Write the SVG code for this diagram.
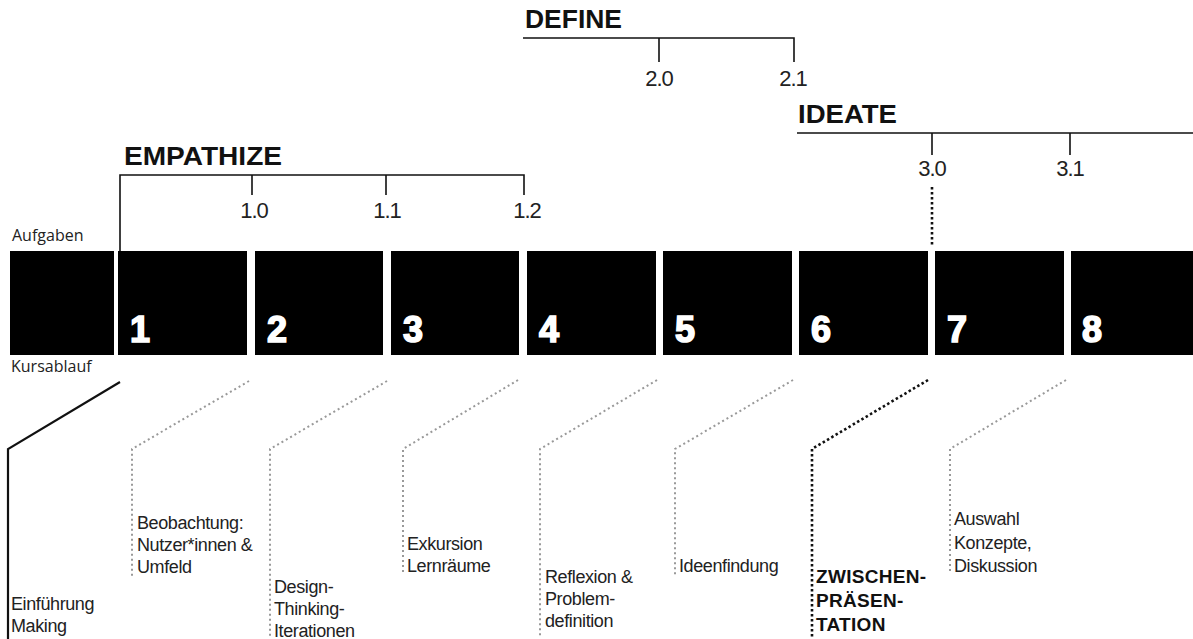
<svg xmlns="http://www.w3.org/2000/svg" width="1193" height="639" viewBox="0 0 1193 639">
<style>
.blk{fill:#000}
.num{font-family:"Liberation Sans",Arial,sans-serif;font-weight:bold;font-size:36px;fill:#fff;stroke:#fff;stroke-width:1.6}
.phase{font-family:"Liberation Sans",Arial,sans-serif;font-weight:bold;font-size:26px;fill:#111}
.sub{font-family:"Liberation Sans",Arial,sans-serif;font-size:22px;fill:#222;text-anchor:middle;letter-spacing:-1px}
.side{font-family:"Open Sans","DejaVu Sans",sans-serif;font-size:16px;fill:#222}
.lbl{font-family:"Liberation Sans",Arial,sans-serif;font-size:18px;fill:#222;letter-spacing:-0.4px}
.lblb{font-family:"Liberation Sans",Arial,sans-serif;font-size:19px;font-weight:bold;fill:#111;letter-spacing:0.3px}
.br{stroke:#111;stroke-width:1.6;fill:none}
.solid{stroke:#111;stroke-width:2.2;fill:none}
.gdot{stroke:#999;stroke-width:2;stroke-dasharray:2 3;fill:none}
.kdot{stroke:#111;stroke-width:2.6;stroke-dasharray:2.5 2.5;fill:none}
</style>
<rect width="1193" height="639" fill="#fff"/>
<text class="side" x="12" y="241">Aufgaben</text>
<text class="side" x="11" y="372">Kursablauf</text>
<g id="block0"><rect class="blk" x="10" y="251" width="104" height="104"/></g>
<g id="block1"><rect class="blk" x="118" y="251" width="129" height="104"/><text class="num" x="130" y="342">1</text></g>
<g id="block2"><rect class="blk" x="255" y="251" width="128" height="104"/><text class="num" x="267" y="342">2</text></g>
<g id="block3"><rect class="blk" x="391" y="251" width="128" height="104"/><text class="num" x="403" y="342">3</text></g>
<g id="block4"><rect class="blk" x="527" y="251" width="129" height="104"/><text class="num" x="539" y="342">4</text></g>
<g id="block5"><rect class="blk" x="663" y="251" width="129" height="104"/><text class="num" x="675" y="342">5</text></g>
<g id="block6"><rect class="blk" x="799" y="251" width="129" height="104"/><text class="num" x="811" y="342">6</text></g>
<g id="block7"><rect class="blk" x="935" y="251" width="129" height="104"/><text class="num" x="947" y="342">7</text></g>
<g id="block8"><rect class="blk" x="1071" y="251" width="122" height="104"/><text class="num" x="1082" y="342">8</text></g>
<g id="empathize">
<text class="phase" x="124" y="165" textLength="158" lengthAdjust="spacingAndGlyphs">EMPATHIZE</text>
<path class="br" d="M120 251V175H524V195M252 175V195M386 175V195"/>
<text class="sub" x="254" y="218">1.0</text>
<text class="sub" x="387" y="218">1.1</text>
<text class="sub" x="527" y="218">1.2</text>
</g>
<g id="define">
<text class="phase" x="525" y="28" textLength="97" lengthAdjust="spacingAndGlyphs">DEFINE</text>
<path class="br" d="M523 38H794V62M659 38V62"/>
<text class="sub" x="659" y="86">2.0</text>
<text class="sub" x="793" y="86">2.1</text>
</g>
<g id="ideate">
<text class="phase" x="798" y="123" textLength="99" lengthAdjust="spacingAndGlyphs">IDEATE</text>
<path class="br" d="M797 133H1193M932 133V155M1070 133V155"/>
<text class="sub" x="932" y="176">3.0</text>
<text class="sub" x="1070" y="176">3.1</text>
</g>
<g id="connectors">
<path class="kdot" d="M932 187V246"/>
<path class="solid" d="M120 382L8 449V639"/>
<path class="gdot" d="M249 381L132 449V576"/>
<path class="gdot" d="M387 381L270 449V638"/>
<path class="gdot" d="M518 380L403 449V574"/>
<path class="gdot" d="M657 380L540 449V638"/>
<path class="gdot" d="M793 380L675 449V575"/>
<path class="kdot" d="M928 380L812 449V638"/>
<path class="gdot" d="M1066 380L950 449V574"/>
</g>
<g id="labels">
<text class="lbl" x="11" y="610">Einführung</text>
<text class="lbl" x="11" y="632">Making</text>
<text class="lbl" x="137" y="529">Beobachtung:</text>
<text class="lbl" x="137" y="551">Nutzer*innen &amp;</text>
<text class="lbl" x="137" y="573">Umfeld</text>
<text class="lbl" x="274" y="593">Design-</text>
<text class="lbl" x="274" y="615">Thinking-</text>
<text class="lbl" x="274" y="637">Iterationen</text>
<text class="lbl" x="407" y="550">Exkursion</text>
<text class="lbl" x="407" y="572">Lernräume</text>
<text class="lbl" x="545" y="583">Reflexion &amp;</text>
<text class="lbl" x="545" y="605">Problem-</text>
<text class="lbl" x="545" y="627">definition</text>
<text class="lbl" x="679" y="572">Ideenfindung</text>
<text class="lblb" x="816" y="583">ZWISCHEN-</text>
<text class="lblb" x="816" y="607">PRÄSEN-</text>
<text class="lblb" x="816" y="631">TATION</text>
<text class="lbl" x="954" y="525">Auswahl</text>
<text class="lbl" x="954" y="549">Konzepte,</text>
<text class="lbl" x="954" y="572">Diskussion</text>
</g>
</svg>
